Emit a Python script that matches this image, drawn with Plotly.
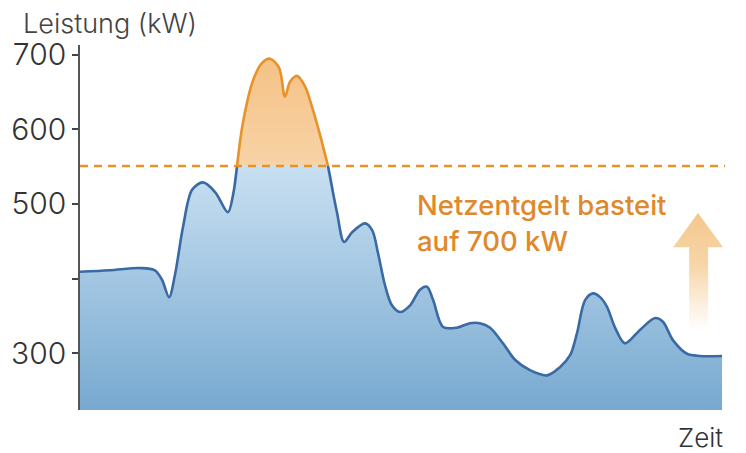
import numpy as np
import plotly.graph_objects as go

# ---- data ----
hours = [0, 1.12, 2.24, 2.80, 3.07, 3.33, 3.55, 3.85, 4.19, 4.60, 5.05, 5.53, 5.72, 5.87,
         6.09, 6.47, 6.80, 7.10, 7.44, 7.66, 7.85, 8.11, 8.41, 8.71, 8.97, 9.27,
         9.61, 9.87, 10.17, 10.65, 10.92, 11.14, 11.40, 11.66, 11.96, 12.34, 12.71, 12.97,
         13.20, 13.57, 14.09, 14.58, 14.95, 15.33, 15.81, 16.26, 16.82, 17.46, 17.94, 18.32,
         18.58, 18.88, 19.18, 19.44, 19.70, 20.00, 20.37, 20.93, 21.50, 21.79, 22.17, 22.69,
         23.18, 24.00]
power_kw = [409, 411, 414, 411, 398, 375, 405, 469, 519, 529, 516, 489, 512, 551,
            609, 666, 689, 695, 683, 644, 664, 672, 658, 626, 593, 551,
            488, 449, 462, 474, 465, 434, 391, 364, 355, 364, 385, 389,
            371, 335, 334, 340, 340, 334, 313, 291, 277, 270, 281, 297,
            327, 371, 380, 375, 362, 334, 313, 331, 347, 342, 317, 299,
            296, 296]
threshold_kw = 551
y_ticks = [300, 400, 500, 600, 700]
y_tick_text = ["300", "", "500", "600", "700"]
y_range = [223.5, 713.4]
x_range = [0, 24.11]

x = np.array(hours)
v = np.array(power_kw, dtype=float)
base = np.full_like(v, y_range[0])

BLUE_LINE = "#3a6aa3"
ORANGE_LINE = "#e8922a"
FONT = "Inter"

fig = go.Figure()

# baseline for blue area
fig.add_trace(go.Scatter(x=x, y=base, mode="lines", line=dict(width=0),
                         hoverinfo="skip", showlegend=False))
# blue area clipped at threshold
fig.add_trace(go.Scatter(
    x=x, y=np.minimum(v, threshold_kw), mode="lines",
    line=dict(width=0, shape="spline", smoothing=0.9),
    fill="tonexty",
    fillgradient=dict(type="vertical", start=y_range[0], stop=threshold_kw,
                      colorscale=[[0, "#78a9d0"], [1, "#c8e0f1"]]),
    hoverinfo="skip", showlegend=False))

# orange area above threshold
over = v >= threshold_kw
xo = x[over]
vo = v[over]
fig.add_trace(go.Scatter(x=xo, y=np.full_like(vo, threshold_kw), mode="lines",
                         line=dict(width=0), hoverinfo="skip", showlegend=False))
fig.add_trace(go.Scatter(
    x=xo, y=vo, mode="lines",
    line=dict(width=2.6, color=ORANGE_LINE, shape="spline", smoothing=0.9),
    fill="tonexty",
    fillgradient=dict(type="vertical", start=threshold_kw, stop=700,
                      colorscale=[[0, "#f8d3a6"], [1, "#f5c185"]]),
    hoverinfo="skip", showlegend=False))

# blue outline (below threshold only)
blue_line = np.where(v > threshold_kw, np.nan, v)
fig.add_trace(go.Scatter(
    x=x, y=blue_line, mode="lines",
    line=dict(width=2.6, color=BLUE_LINE, shape="spline", smoothing=0.9),
    connectgaps=False, hoverinfo="skip", showlegend=False))

# threshold dashed line
fig.add_shape(type="line", xref="paper", x0=0, x1=1, yref="y",
              y0=threshold_kw, y1=threshold_kw,
              line=dict(color=ORANGE_LINE, width=2.6, dash="8px,6px"))

# decorative arrow with fading gradient
ax = [22.77, 22.77, 22.17, 23.10, 24.04, 23.48, 23.48, 22.77]
ay = [330, 442, 442, 488, 442, 442, 330, 330]
fig.add_trace(go.Scatter(
    x=ax, y=ay, mode="lines", line=dict(width=0), fill="toself",
    fillgradient=dict(type="vertical", start=330, stop=488,
                      colorscale=[[0, "rgba(246,205,150,0)"], [0.55, "rgba(244,200,140,0.75)"],
                                  [1, "rgba(243,196,135,0.95)"]]),
    hoverinfo="skip", showlegend=False))

fig.update_layout(
    width=746, height=453,
    margin=dict(l=80, r=21, t=45, b=43),
    paper_bgcolor="white", plot_bgcolor="white",
    font=dict(family=FONT, color="#333333"),
    xaxis=dict(range=x_range, showgrid=False, zeroline=False, showticklabels=False,
               showline=False, ticks="", automargin=False),
    yaxis=dict(range=y_range, showgrid=False, zeroline=False, automargin=False,
               tickvals=y_ticks, ticktext=y_tick_text,
               ticks="outside", ticklen=6, tickwidth=1.5, tickcolor="#444444",
               showline=True, linecolor="#555555", linewidth=1.5,
               tickfont=dict(size=30, color="#333333", family=FONT, weight=300),
               ticklabelstandoff=0),
    annotations=[
        dict(text="Leistung (kW)", xref="paper", yref="paper", x=-80/645, y=1 + 22/365,
             xanchor="left", yanchor="middle", showarrow=False, xshift=21,
             font=dict(size=27, color="#444444", family=FONT, weight=300)),
        dict(text="Zeit", xref="paper", yref="paper", x=1, y=-28/365,
             xanchor="right", yanchor="middle", showarrow=False, xshift=0,
             font=dict(size=26, color="#333333", family=FONT, weight=300)),
        dict(text="Netzentgelt basteit", xref="x", yref="y", x=(415 - 80) / 26.75,
             y=700 - (205 - 55) / 0.745, xanchor="left", yanchor="middle", showarrow=False,
             font=dict(size=27.5, color="#e0882a", family=FONT, weight=500)),
        dict(text="auf 700 kW", xref="x", yref="y", x=(415 - 80) / 26.75,
             y=700 - (241 - 55) / 0.745, xanchor="left", yanchor="middle", showarrow=False,
             font=dict(size=27.5, color="#e0882a", family=FONT, weight=500)),
    ],
)

fig.write_html("out.html")
